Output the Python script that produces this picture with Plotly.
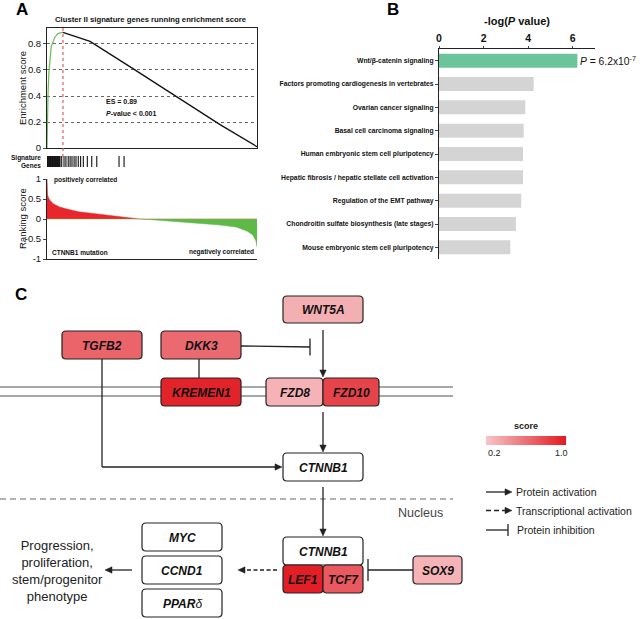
import plotly.graph_objects as go
from plotly.colors import sample_colorscale

W, H = 640, 619
FONT = "Arial, Liberation Sans, sans-serif"

# ---------------- Panel A data ----------------
es_rank = [0, 2, 5, 9, 14, 20, 37, 52, 76, 205, 400, 600, 824, 1000]
es_value = [0.0, 0.30, 0.42, 0.58, 0.70, 0.78, 0.85, 0.88, 0.89, 0.82, 0.62, 0.41, 0.18, 0.01]
sig_gene_rank = [2, 5, 8, 11, 14, 17, 20, 23, 26, 29, 32, 35, 38, 41, 44, 47, 50, 53, 56, 59, 62,
                 70, 81, 90, 101, 110, 119, 129, 138, 149, 160, 173, 192, 213, 237, 343, 367]
rank_pos = [0, 1, 3, 8, 15, 30, 60, 95, 150, 250, 330, 410, 440, 500, 600, 700, 824, 900, 952, 980, 995, 1000]
rank_score = [1.0, 0.75, 0.6, 0.52, 0.46, 0.38, 0.30, 0.25, 0.18, 0.12, 0.07, 0.02, 0.0, -0.02, -0.06, -0.10,
              -0.15, -0.20, -0.30, -0.40, -0.55, -0.70]
es_label = "ES = 0.89"
es_pval = "<i>P</i>-value &lt; 0.001"

# ---------------- Panel B data ----------------
pathways = ["Wnt/β-catenin signaling",
            "Factors promoting cardiogenesis in vertebrates",
            "Ovarian cancer signaling",
            "Basal cell carcinoma signaling",
            "Human embryonic stem cell pluripotency",
            "Hepatic fibrosis / hepatic stellate cell activation",
            "Regulation of the EMT pathway",
            "Chondroitin sulfate biosynthesis (late stages)",
            "Mouse embryonic stem cell pluripotency"]
neg_log_p = [6.21, 4.25, 3.87, 3.80, 3.77, 3.77, 3.69, 3.45, 3.20]
top_p_text = "<i>P</i> = 6.2x10<sup>-7</sup>"

# ---------------- Panel C data ----------------
node_ids = ["WNT5A", "TGFB2", "DKK3", "KREMEN1", "FZD8", "FZD10", "CTNNB1_c", "CTNNB1_n",
            "LEF1", "TCF7", "SOX9", "MYC", "CCND1", "PPARD"]
node_labels = ["<b><i>WNT5A</i></b>", "<b><i>TGFB2</i></b>", "<b><i>DKK3</i></b>", "<b><i>KREMEN1</i></b>",
               "<b><i>FZD8</i></b>", "<b><i>FZD10</i></b>", "<b><i>CTNNB1</i></b>", "<b><i>CTNNB1</i></b>",
               "<b><i>LEF1</i></b>", "<b><i>TCF7</i></b>", "<b><i>SOX9</i></b>", "<b><i>MYC</i></b>",
               "<b><i>CCND1</i></b>", "<b><i>PPAR</i></b><i>δ</i>"]
node_scores = [0.30, 0.65, 0.62, 0.95, 0.28, 0.80, None, None, 0.97, 0.70, 0.28, None, None, None]
score_range = [0.2, 1.0]
legend_items = ["Protein activation", "Transcriptional activation", "Protein inhibition"]

# ---------------- layout geometry (pixels) ----------------
box_px = {
    "WNT5A": (283, 296, 363, 323), "TGFB2": (62, 331, 142, 359), "DKK3": (161, 331, 241, 359),
    "KREMEN1": (161, 378, 241, 406), "FZD8": (266, 378, 323, 406), "FZD10": (323, 378, 379, 406),
    "CTNNB1_c": (283, 453, 363, 481), "CTNNB1_n": (283, 537, 363, 565), "LEF1": (283, 565, 323, 593),
    "TCF7": (323, 565, 363, 593), "SOX9": (413, 556, 462, 584), "MYC": (142, 523, 222, 551),
    "CCND1": (142, 556, 222, 584), "PPARD": (142, 589, 222, 617),
}
COLORSCALE = [[0, "rgb(247,196,200)"], [1, "rgb(225,25,32)"]]


def ydom(top_px, bot_px):
    return [1 - bot_px / H, 1 - top_px / H]


def xdom(l_px, r_px):
    return [l_px / W, r_px / W]


def rrect(x0, y0, x1, y1, r=4):
    return (f"M {x0+r},{y0} L {x1-r},{y0} Q {x1},{y0} {x1},{y0+r} L {x1},{y1-r} "
            f"Q {x1},{y1} {x1-r},{y1} L {x0+r},{y1} Q {x0},{y1} {x0},{y1-r} "
            f"L {x0},{y0+r} Q {x0},{y0} {x0+r},{y0} Z")


shapes = []
annotations = []
OV = dict(xref="x5", yref="y5")


def line(x0, y0, x1, y1, color="#222", width=1.3, dash=None):
    d = dict(type="line", x0=x0, y0=y0, x1=x1, y1=y1, line=dict(color=color, width=width), **OV)
    if dash:
        d["line"]["dash"] = dash
    shapes.append(d)


def head(xt, yt, dx, dy, L=7, Wd=3.2, color="#222"):
    bx, by = xt - dx * L, yt - dy * L
    px, py = -dy * Wd, dx * Wd
    p = f"M {xt},{yt} L {bx+px},{by+py} L {bx-px},{by-py} Z"
    shapes.append(dict(type="path", path=p, fillcolor=color, line=dict(color=color, width=0.5), **OV))


def arrow(x0, y0, x1, y1, dash=None):
    dx, dy = x1 - x0, y1 - y0
    n = (dx * dx + dy * dy) ** 0.5
    dx, dy = dx / n, dy / n
    line(x0, y0, x1 - dx * 5, y1 - dy * 5, dash=dash)
    head(x1, y1, dx, dy)


def inhibit(x0, y0, x1, y1, half=9):
    line(x0, y0, x1, y1)
    line(x1, y1 - half, x1, y1 + half)


def text(x, y, t, size=9, color="#111", xanchor="center", angle=0, **kw):
    annotations.append(dict(x=x, y=y, text=t, showarrow=False, xanchor=xanchor, yanchor="middle",
                            textangle=angle, font=dict(size=size, color=color, family=FONT), **OV, **kw))


fig = go.Figure()

# ---------- Panel A: running enrichment ----------
k = es_value.index(max(es_value))
fig.add_trace(go.Scatter(x=es_rank[:k + 1], y=es_value[:k + 1], mode="lines",
                         line=dict(color="#66bb55", width=1.2), xaxis="x", yaxis="y", showlegend=False))
fig.add_trace(go.Scatter(x=es_rank[k:], y=es_value[k:], mode="lines",
                         line=dict(color="#111", width=1.3), xaxis="x", yaxis="y", showlegend=False))
shapes.append(dict(type="line", xref="x", yref="y5", x0=es_rank[k], x1=es_rank[k], y0=28, y1=158,
                   line=dict(color="#e85a5a", width=1.2, dash="dot")))

# barcode
bx, by = [], []
for r in sig_gene_rank:
    bx += [r, r, None]
    by += [0, 1, None]
fig.add_trace(go.Scatter(x=bx, y=by, mode="lines", line=dict(color="#111", width=1.1),
                         xaxis="x2", yaxis="y2", showlegend=False))

# ranking score
pos = [max(v, 0) for v in rank_score]
neg = [min(v, 0) for v in rank_score]
fig.add_trace(go.Scatter(x=rank_pos, y=pos, mode="lines", fill="tozeroy", fillcolor="#e8262b",
                         line=dict(color="#e8262b", width=0.5), xaxis="x3", yaxis="y3", showlegend=False))
fig.add_trace(go.Scatter(x=rank_pos, y=neg, mode="lines", fill="tozeroy", fillcolor="#5dba47",
                         line=dict(color="#5dba47", width=0.5), xaxis="x3", yaxis="y3", showlegend=False))

# ---------- Panel B ----------
fig.add_trace(go.Bar(x=neg_log_p, y=pathways, orientation="h",
                     marker=dict(color=["#6cc49a"] + ["#d4d4d4"] * (len(pathways) - 1), line=dict(width=0)),
                     xaxis="x4", yaxis="y4", showlegend=False))

# ---------- Panel C: score gradient (legend) ----------
fig.add_trace(go.Heatmap(z=[score_range, score_range], x=[0, 1], y=[0, 1], zsmooth="best",
                         colorscale=COLORSCALE, zmin=score_range[0], zmax=score_range[1],
                         showscale=False, hoverinfo="skip", xaxis="x6", yaxis="y6"))

# membrane lines
line(0, 387, 453, 387, color="#8a8a8a", width=1.3)
line(0, 396, 453, 396, color="#8a8a8a", width=1.3)
# nucleus boundary
line(0, 499, 453, 499, color="#9a9a9a", width=1.3, dash="6px,4px")

# connections
line(199, 359, 199, 378)
inhibit(241, 346, 310, 347, half=8.5)
arrow(323, 330, 323, 377)
arrow(323, 412, 323, 452)
line(102, 359, 102, 467)
arrow(102, 467, 282, 467)
arrow(323, 487, 323, 536)
inhibit(413, 570, 368, 570, half=11)
arrow(277, 570, 238, 570, dash="4px,2.5px")
arrow(132, 570, 105, 570)

# boxes
for nid, lab, sc in zip(node_ids, node_labels, node_scores):
    x0, y0, x1, y1 = box_px[nid]
    fill = "white" if sc is None else sample_colorscale(COLORSCALE, [(sc - score_range[0]) / (score_range[1] - score_range[0])])[0]
    shapes.append(dict(type="path", path=rrect(x0, y0, x1, y1), fillcolor=fill,
                       line=dict(color="#222", width=1.2), **OV))
    text((x0 + x1) / 2, (y0 + y1) / 2 + 0.5, lab, size=12, color="#111")

text(57, 571, "Progression,<br>proliferation,<br>stem/progenitor<br>phenotype", size=13, color="#222")
text(420, 513, "Nucleus", size=12.5, color="#444")

# legend
text(526, 426, "<b>score</b>", size=9, color="#222")
text(494, 453, "0.2", size=9, color="#222")
text(561, 453, "1.0", size=9, color="#222")
arrow(486, 492, 512, 492)
text(514, 492, legend_items[0], size=10.5, xanchor="left", color="#222")
arrow(486, 510.5, 512, 510.5, dash="5px,3px")
text(514, 510.5, legend_items[1], size=10.5, xanchor="left", color="#222")
inhibit(486, 530, 508, 530, half=6)
text(515, 530, legend_items[2], size=10.5, xanchor="left", color="#222")

# ---------- Panel A / B texts ----------
text(22, 9, "<b>A</b>", size=17, color="#000")
text(393, 9, "<b>B</b>", size=17, color="#000")
text(21, 294, "<b>C</b>", size=17, color="#000")
text(151, 19, "<b>Cluster II signature genes running enrichment score</b>", size=7.7)
text(22, 88, "Enrichment score", size=9.5, angle=-90)
text(22, 219, "Ranking score", size=9.5, angle=-90)
text(104, 101, "<b>" + es_label + "</b>", size=7, xanchor="left")
text(104, 113, "<b>" + es_pval + "</b>", size=7, xanchor="left")
text(43, 158, "<b>Signature</b>", size=6.5, xanchor="right")
text(43, 165, "<b>Genes</b>", size=6.5, xanchor="right")
text(52, 180, "<b>positively correlated</b>", size=6.5, xanchor="left")
text(50, 252, "<b>CTNNB1 mutation</b>", size=6.5, xanchor="left")
text(256, 252, "<b>negatively correlated</b>", size=6.5, xanchor="right")
text(517, 21, "<b>-log(<i>P</i> value)</b>", size=11)
annotations.append(dict(x=neg_log_p[0], y=pathways[0], xref="x4", yref="y4", text=top_p_text,
                        showarrow=False, xanchor="left", xshift=1,
                        font=dict(size=10.3, family=FONT, color="#111")))

ax_common = dict(zeroline=False, showgrid=False, automargin=False)
fig.update_layout(
    width=W, height=H, margin=dict(l=0, r=0, t=0, b=0, autoexpand=False),
    paper_bgcolor="white", plot_bgcolor="rgba(0,0,0,0)",
    font=dict(family=FONT, color="#111"),
    shapes=shapes, annotations=annotations, showlegend=False, bargap=0.4,
    xaxis=dict(domain=xdom(47, 257), range=[0, 1000], showticklabels=False, ticks="",
               showline=True, mirror=True, linecolor="#222", linewidth=1, anchor="y", **ax_common),
    yaxis=dict(domain=ydom(28, 148), range=[0, 0.923], tickvals=[0, 0.2, 0.4, 0.6, 0.8],
               ticktext=["0", "0.2", "0.4", "0.6", "0.8"], ticks="outside", ticklen=3,
               showline=True, mirror=True, linecolor="#222", linewidth=1, showgrid=True,
               gridcolor="#666", griddash="dot", gridwidth=1, zeroline=False, automargin=False,
               tickfont=dict(size=9.5, color="#111"), anchor="x"),
    xaxis2=dict(domain=xdom(47, 257), range=[0, 1000], visible=False, anchor="y2"),
    yaxis2=dict(domain=ydom(156, 167), range=[0, 1], visible=False, anchor="x2"),
    xaxis3=dict(domain=xdom(47, 257), range=[0, 1000], showticklabels=False, ticks="",
                showline=True, linecolor="#222", linewidth=1, anchor="y3", **ax_common),
    yaxis3=dict(domain=ydom(179, 259), range=[-1, 1], tickvals=[-1, -0.5, 0, 0.5, 1],
                ticktext=["-1", "-0.5", "0", "0.5", "1"], ticks="outside", ticklen=3,
                showline=True, linecolor="#222", linewidth=1, tickfont=dict(size=9.5, color="#111"),
                anchor="x3", **ax_common),
    xaxis4=dict(domain=xdom(439, 595), range=[0, 7], side="top", tickvals=[0, 2, 4, 6],
                ticks="outside", ticklen=2, showline=True, linecolor="#222", linewidth=1,
                tickfont=dict(size=10.5, weight="bold", color="#111"), anchor="y4", **ax_common),
    yaxis4=dict(domain=ydom(49, 259), autorange="reversed", ticks="outside", ticklen=3,
                showline=True, linecolor="#222", linewidth=1,
                tickfont=dict(size=6.8, weight="bold", color="#111"), anchor="x4", **ax_common),
    xaxis5=dict(domain=[0, 1], range=[0, W], visible=False, anchor="y5", fixedrange=True),
    yaxis5=dict(domain=[0, 1], range=[H, 0], visible=False, anchor="x5", fixedrange=True),
    xaxis6=dict(domain=xdom(486, 566), range=[0, 1], visible=False, anchor="y6"),
    yaxis6=dict(domain=ydom(436, 445), range=[0, 1], visible=False, anchor="x6"),
)

fig.write_html("out.html", config={"displayModeBar": False},
               post_script="document.body.style.margin='0px';document.body.style.padding='0px';")
